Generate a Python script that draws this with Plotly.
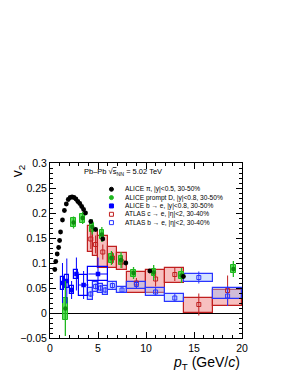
import plotly.graph_objects as go

# ---------------- data ----------------
# ALICE pi, |y|<0.5, 30-50%
pi_pt = [0.5, 0.6, 0.75, 0.9, 1.0, 1.1, 1.3, 1.5, 1.7, 1.9, 2.1, 2.3, 2.5, 2.7, 2.9,
         3.1, 3.3, 3.5, 3.7, 4.25, 4.75, 5.5, 7.9, 10.4, 13.9]
pi_v2 = [0.087, 0.103, 0.118, 0.131, 0.145, 0.162, 0.186, 0.205, 0.218, 0.227, 0.231,
         0.232, 0.231, 0.228, 0.223, 0.219, 0.213, 0.207, 0.200, 0.183, 0.167, 0.148,
         0.100, 0.084, 0.073]

# ALICE prompt D, |y|<0.8, 30-50%
d_pt = [1.6, 2.45, 3.4, 4.4, 5.4, 6.4, 7.4, 8.7, 10.8, 13.7, 19.1]
d_v2 = [0.009, 0.181, 0.190, 0.172, 0.157, 0.110, 0.106, 0.080, 0.081, 0.075, 0.088]
d_stat = [0.055, 0.012, 0.012, 0.015, 0.015, 0.014, 0.016, 0.012, 0.015, 0.015, 0.016]
d_syst = [0.022, 0.009, 0.009, 0.009, 0.009, 0.009, 0.009, 0.007, 0.007, 0.007, 0.008]

# ALICE b -> e, |y|<0.8, 30-50%
be_pt = [1.3, 1.75, 2.25, 2.75, 3.5, 5.0]
be_v2 = [0.060, 0.064, 0.046, 0.078, 0.056, 0.078]
be_stat = [0.040, 0.045, 0.018, 0.033, 0.028, 0.033]
be_syst = [0.013, 0.013, 0.008, 0.009, 0.021, 0.014]
be_xerr = [0.0, 0.0, 0.0, 0.0, 0.5, 1.0]
be_bw = [0.4, 0.4, 0.4, 0.4, 1.0, 2.0]

# ATLAS c -> e, |eta|<2, 30-40%
ac_lo_edge = [4.0, 4.5, 5.0, 6.0, 7.0, 8.0, 10.0, 12.0, 14.0, 17.0]
ac_hi_edge = [4.5, 5.0, 6.0, 7.0, 8.0, 10.0, 12.0, 14.0, 17.0, 20.0]
ac_v2 = [0.148, 0.137, 0.122, 0.110, 0.102, 0.060, 0.068, 0.077, 0.017, 0.045]
ac_stat = [0.020, 0.018, 0.015, 0.012, 0.012, 0.010, 0.015, 0.013, 0.022, 0.030]
ac_sys_lo = [0.122, 0.115, 0.090, 0.090, 0.086, 0.040, 0.040, 0.061, 0.001, 0.015]
ac_sys_hi = [0.175, 0.165, 0.155, 0.133, 0.120, 0.083, 0.087, 0.090, 0.030, 0.047]

# ATLAS b -> e, |eta|<2, 30-40%
ab_lo_edge = [4.0, 4.5, 5.0, 5.5, 6.0, 7.0, 8.0, 10.0, 12.0, 14.0, 17.0]
ab_hi_edge = [4.5, 5.0, 5.5, 6.0, 7.0, 8.0, 10.0, 12.0, 14.0, 17.0, 20.0]
ab_v2 = [0.038, 0.053, 0.050, 0.046, 0.055, 0.046, 0.057, 0.042, 0.030, 0.071, 0.034]
ab_stat = [0.006, 0.006, 0.006, 0.006, 0.006, 0.006, 0.008, 0.008, 0.008, 0.012, 0.020]
ab_sys_lo = [0.027, 0.043, 0.040, 0.036, 0.047, 0.040, 0.049, 0.034, 0.023, 0.063, 0.028]
ab_sys_hi = [0.050, 0.062, 0.059, 0.055, 0.062, 0.053, 0.063, 0.050, 0.038, 0.079, 0.050]

x_ticks = [0, 5, 10, 15, 20]
y_ticks = [-0.05, 0, 0.05, 0.1, 0.15, 0.2, 0.25, 0.3]
y_tick_text = ["\u22120.05", "0", "0.05", "0.1", "0.15", "0.2", "0.25", "0.3"]

legend_labels = [
    "ALICE \u03c0, |y|&lt;0.5, 30-50%",
    "ALICE prompt D, |y|&lt;0.8, 30-50%",
    "ALICE b \u2192 e, |y|&lt;0.8, 30-50%",
    "ATLAS c \u2192 e, |\u03b7|&lt;2, 30-40%",
    "ATLAS b \u2192 e, |\u03b7|&lt;2, 30-40%",
]

# ---------------- colours ----------------
C_BLACK = "#000000"
C_GREEN = "#1fb81f"
C_GREEN_DARK = "#108a10"
C_GREEN_FILL = "rgba(40,215,40,0.75)"
C_BLUE = "#0000ff"
C_RED = "#c01f1f"
C_RED_FILL = "rgba(240,140,140,0.55)"
C_ABLUE = "#2a35ff"
C_ABLUE_FILL = "rgba(150,185,255,0.4)"

FONT = "Liberation Sans, Arial, Helvetica, sans-serif"

fig = go.Figure()

# --- systematic boxes (bars) ---
ac_c = [(a + b) / 2 for a, b in zip(ac_lo_edge, ac_hi_edge)]
ac_w = [b - a for a, b in zip(ac_lo_edge, ac_hi_edge)]
fig.add_trace(go.Bar(x=ac_c, y=[h - l for l, h in zip(ac_sys_lo, ac_sys_hi)], base=ac_sys_lo,
                     width=ac_w, marker=dict(color=C_RED_FILL, line=dict(color=C_RED, width=1.2)),
                     showlegend=False, hoverinfo="skip"))
ab_c = [(a + b) / 2 for a, b in zip(ab_lo_edge, ab_hi_edge)]
ab_w = [b - a for a, b in zip(ab_lo_edge, ab_hi_edge)]
fig.add_trace(go.Bar(x=ab_c, y=[h - l for l, h in zip(ab_sys_lo, ab_sys_hi)], base=ab_sys_lo,
                     width=ab_w, marker=dict(color=C_ABLUE_FILL, line=dict(color=C_ABLUE, width=1.2)),
                     showlegend=False, hoverinfo="skip"))
fig.add_trace(go.Bar(x=be_pt, y=[2 * s for s in be_syst], base=[v - s for v, s in zip(be_v2, be_syst)],
                     width=be_bw, marker=dict(color="rgba(0,0,0,0)", line=dict(color=C_BLUE, width=1.2)),
                     showlegend=False, hoverinfo="skip"))
fig.add_trace(go.Bar(x=d_pt, y=[2 * s for s in d_syst], base=[v - s for v, s in zip(d_v2, d_syst)],
                     width=[0.45] * len(d_pt),
                     marker=dict(color=C_GREEN_FILL, line=dict(color=C_GREEN, width=1)),
                     showlegend=False, hoverinfo="skip"))

# --- points ---
fig.add_trace(go.Scatter(x=ac_c, y=ac_v2, mode="markers",
                         error_y=dict(type="data", array=ac_stat, color=C_RED, thickness=1, width=0),
                         marker=dict(symbol="square-open", size=4, color=C_RED, line=dict(width=1)),
                         showlegend=False))
fig.add_trace(go.Scatter(x=ab_c, y=ab_v2, mode="markers",
                         error_y=dict(type="data", array=ab_stat, color=C_ABLUE, thickness=1, width=0),
                         marker=dict(symbol="square-open", size=4, color=C_ABLUE, line=dict(width=1)),
                         showlegend=False))
fig.add_trace(go.Scatter(x=be_pt, y=be_v2, mode="markers",
                         error_y=dict(type="data", array=be_stat, color=C_BLUE, thickness=1, width=0),
                         error_x=dict(type="data", array=be_xerr, color=C_BLUE, thickness=1, width=0),
                         marker=dict(symbol="square", size=4.5, color=C_BLUE),
                         showlegend=False))
fig.add_trace(go.Scatter(x=d_pt, y=d_v2, mode="markers",
                         error_y=dict(type="data", array=d_stat, color=C_GREEN, thickness=1.3, width=0),
                         marker=dict(symbol="circle", size=4.5, color=C_GREEN_DARK),
                         showlegend=False))
fig.add_trace(go.Scatter(x=pi_pt, y=pi_v2, mode="markers",
                         marker=dict(symbol="circle", size=4.8, color=C_BLACK),
                         showlegend=False))

# --- legend markers on an invisible overlay axis (fractions of the plot area) ---
leg_syms = ["circle", "circle", "square", "square-open", "square-open"]
leg_cols = [C_BLACK, C_GREEN, C_BLUE, C_RED, C_ABLUE]
leg_y0 = 0.850
leg_dy = 0.0477
leg_x = 0.32
for i, (s, c) in enumerate(zip(leg_syms, leg_cols)):
    fig.add_trace(go.Scatter(x=[leg_x], y=[leg_y0 - i * leg_dy], mode="markers",
                             xaxis="x2", yaxis="y2",
                             marker=dict(symbol=s, size=4, color=c, line=dict(width=1, color=c)),
                             showlegend=False, hoverinfo="skip"))

annotations = []
for i, t in enumerate(legend_labels):
    yy = leg_y0 - i * leg_dy
    annotations.append(dict(x=0.381, y=yy, xref="paper", yref="paper", text=t, showarrow=False,
                            font=dict(size=6.6, color="#000000", family=FONT), xanchor="left", yanchor="middle"))

annotations.append(dict(x=0.165, y=0.95, xref="paper", yref="paper",
                        text="Pb\u2013Pb \u221a<span style='text-decoration:overline'>s</span><sub>NN</sub> = 5.02 TeV",
                        showarrow=False, font=dict(size=7.5, color="#000000", family=FONT),
                        xanchor="left", yanchor="middle"))
# axis titles
annotations.append(dict(x=-0.165, y=0.955, xref="paper", yref="paper", text="v<sub>2</sub>",
                        textangle=-90, showarrow=False, font=dict(size=14, color="#000000", family=FONT),
                        xanchor="center", yanchor="middle"))
annotations.append(dict(x=1.0, y=-0.14, xref="paper", yref="paper",
                        text="<i>p</i><sub>T</sub> (GeV/<i>c</i>)",
                        showarrow=False, font=dict(size=14, color="#000000", family=FONT),
                        xanchor="right", yanchor="middle"))

fig.update_layout(
    width=293, height=383,
    margin=dict(l=40, r=59, t=155, b=53),
    paper_bgcolor="white", plot_bgcolor="white",
    barmode="overlay", bargap=0,
    showlegend=False,
    annotations=annotations,
    font=dict(family=FONT, color="#000000"),
    xaxis2=dict(overlaying="x", range=[0, 1], visible=False),
    yaxis2=dict(overlaying="y", range=[0, 1], visible=False),
)
fig.layout.xaxis.update(range=[0, 20], tickvals=x_ticks, ticks="inside", ticklen=6, tickwidth=1,
                        tickcolor="black", showline=True, linecolor="black", linewidth=1, mirror="ticks",
                        showgrid=False, zeroline=False, tickfont=dict(size=10.5, family=FONT),
                        minor=dict(ticks="inside", dtick=1, ticklen=3, tickcolor="black", showgrid=False))
fig.layout.yaxis.update(range=[-0.05, 0.3], tickvals=y_ticks, ticktext=y_tick_text, ticks="inside",
                        ticklen=6, tickwidth=1, tickcolor="black", showline=True, linecolor="black",
                        linewidth=1, mirror="ticks", showgrid=False, zeroline=True, zerolinecolor="black",
                        zerolinewidth=1, tickfont=dict(size=10.5, family=FONT),
                        minor=dict(ticks="inside", dtick=0.01, ticklen=3, tickcolor="black", showgrid=False))

fig.write_html("out.html")
